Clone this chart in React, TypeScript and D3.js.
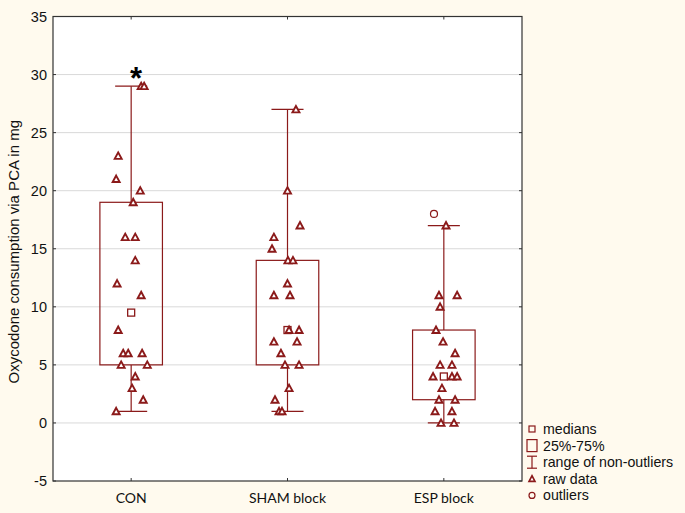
import React from "react";
import * as d3 from "d3";

const categories = ["CON", "SHAM block", "ESP block"];
const medians = [9.5, 8, 4];
const q1 = [5, 5, 2];
const q3 = [19, 14, 8];
const whiskerLow = [1, 1, 0];
const whiskerHigh = [29, 27, 17];

const conValues = [29, 29, 23, 21, 20, 19, 16, 16, 14, 12, 11, 8, 6, 6, 6, 5, 5, 4, 3, 2, 1];
const conJitter = [0.064, 0.083, -0.083, -0.096, 0.058, 0.013, -0.038, 0.026, 0.026, -0.09, 0.064, -0.083, -0.051, -0.019, 0.07, -0.064, 0.103, 0.026, 0.006, 0.077, -0.096];
const shamValues = [27, 20, 17, 16, 15, 14, 14, 12, 11, 11, 8, 8, 7, 7, 6, 5, 5, 3, 2, 1, 1];
const shamJitter = [0.054, 0, 0.08, -0.087, -0.099, 0.003, 0.035, 0, -0.087, 0.016, 0.01, 0.074, -0.087, 0.061, -0.042, -0.016, 0.074, 0.01, -0.08, -0.054, -0.035];
const espValues = [17, 11, 11, 10, 8, 7, 6, 5, 5, 4, 4, 4, 3, 2, 2, 1, 1, 0, 0];
const espJitter = [0.014, -0.031, 0.085, -0.024, -0.05, -0.005, 0.072, -0.024, 0.052, -0.069, 0.052, 0.085, -0.012, -0.031, 0.072, -0.056, 0.052, -0.018, 0.065];
const outlierValues = [[], [], [18]];
const outlierJitter = [[], [], [-0.063]];
const yTicks = [-5, 0, 5, 10, 15, 20, 25, 30, 35];
const legendLabels = ["medians", "25%-75%", "range of non-outliers", "raw data", "outliers"];

const rawValues = [conValues, shamValues, espValues];
const rawJitter = [conJitter, shamJitter, espJitter];

const W = 685;
const H = 513;
const left = 53;
const right = 522;
const top = 16.5;
const bottom = 481;
const RED = "#8b1a1a";
const BG = "#fffaee";
const FONT = "'Liberation Sans', Arial, sans-serif";

function tri(x: number, y: number, s: number) {
  const h = s * 0.85;
  return `M${x},${y - h / 2 - 0.5}L${x + s / 2},${y + h / 2}L${x - s / 2},${y + h / 2}Z`;
}

export default function App() {
  const x = d3.scaleBand<string>().domain(categories).range([left, right]).padding(0);
  const y = d3.scaleLinear().domain([-5, 35]).range([bottom, top]);
  const bw = x.bandwidth();
  const cx = (i: number) => (x(categories[i]) as number) + bw / 2;
  const boxW = bw * 0.4;
  const capW = bw * 0.205;

  return (
    <svg width={W} height={H} style={{ position: "absolute", left: 0, top: 0 }}>
      <rect x={0} y={0} width={W} height={H} fill={BG} />
      <rect x={left} y={top} width={right - left} height={bottom - top} fill="#fff" />
      {yTicks.filter((t) => t > -5 && t < 35).map((t) => (
        <line key={"g" + t} x1={left} x2={right} y1={y(t)} y2={y(t)} stroke="#d9d9d9" strokeWidth={1} />
      ))}
      {yTicks.map((t) => (
        <g key={"t" + t}>
          <line x1={left} x2={left + 3} y1={y(t)} y2={y(t)} stroke="#333" />
          <line x1={right - 3} x2={right} y1={y(t)} y2={y(t)} stroke="#333" />
          <text x={left - 6} y={y(t)} dy="0.35em" textAnchor="end" fontFamily={FONT} fontSize={14.5} fill="#111">
            {t}
          </text>
        </g>
      ))}
      {categories.map((c, i) => (
        <g key={"c" + c}>
          <line x1={cx(i)} x2={cx(i)} y1={top} y2={top + 3} stroke="#333" />
          <line x1={cx(i)} x2={cx(i)} y1={bottom - 3} y2={bottom} stroke="#333" />
          <text x={cx(i)} y={bottom + 22} textAnchor="middle" fontFamily="Lato, 'Open Sans', sans-serif" fontSize={14} fill="#111">
            {c}
          </text>
        </g>
      ))}
      <rect x={left} y={top} width={right - left} height={bottom - top} fill="none" stroke="#333" strokeWidth={1.2} />

      {categories.map((c, i) => (
        <g key={"b" + c}>
          <line x1={cx(i)} x2={cx(i)} y1={y(whiskerHigh[i])} y2={y(q3[i])} stroke={RED} strokeWidth={1.2} />
          <line x1={cx(i)} x2={cx(i)} y1={y(q1[i])} y2={y(whiskerLow[i])} stroke={RED} strokeWidth={1.2} />
          <line x1={cx(i) - capW / 2 - 0} x2={cx(i) + capW / 2} y1={y(whiskerHigh[i])} y2={y(whiskerHigh[i])} stroke={RED} strokeWidth={1.2} />
          <line x1={cx(i) - capW / 2} x2={cx(i) + capW / 2} y1={y(whiskerLow[i])} y2={y(whiskerLow[i])} stroke={RED} strokeWidth={1.2} />
          <rect x={cx(i) - boxW / 2} y={y(q3[i])} width={boxW} height={y(q1[i]) - y(q3[i])} fill="none" stroke={RED} strokeWidth={1.2} />
          <rect x={cx(i) - 3.5} y={y(medians[i]) - 3.5} width={7} height={7} fill="#fff" stroke={RED} strokeWidth={1.3} />
          {rawValues[i].map((v, j) => (
            <path key={j} d={tri(cx(i) + rawJitter[i][j] * bw, y(v), 7)} fill="#fff" stroke={RED} strokeWidth={1.9} strokeLinejoin="miter" />
          ))}
          {outlierValues[i].map((v, j) => (
            <circle key={"o" + j} cx={cx(i) + outlierJitter[i][j] * bw} cy={y(v)} r={3.5} fill="none" stroke={RED} strokeWidth={1.2} />
          ))}
        </g>
      ))}

      <text x={136} y={y(whiskerHigh[0]) + 3} textAnchor="middle" fontFamily={FONT} fontWeight="bold" fontSize={31} fill="#000">
        *
      </text>

      <g fontFamily={FONT} fontSize={14.2} fill="#111">
        {legendLabels.map((l, k) => {
          const ly = 429 + k * 16.6;
          return (
            <g key={l}>
              <text x={543} y={ly} dy="0.35em">{l}</text>
              {k === 0 && <rect x={529} y={ly - 3} width={6} height={6} fill="none" stroke={RED} strokeWidth={1.2} />}
              {k === 1 && <rect x={527} y={ly - 6} width={10} height={12} fill="none" stroke={RED} strokeWidth={1.2} />}
              {k === 2 && (
                <g stroke={RED} strokeWidth={1.2}>
                  <line x1={527} x2={537} y1={ly - 6} y2={ly - 6} />
                  <line x1={532} x2={532} y1={ly - 6} y2={ly + 6} />
                  <line x1={527} x2={537} y1={ly + 6} y2={ly + 6} />
                </g>
              )}
              {k === 3 && <path d={tri(532, ly, 6)} fill="#fff" stroke={RED} strokeWidth={1.6} />}
              {k === 4 && <circle cx={532} cy={ly} r={3} fill="none" stroke={RED} strokeWidth={1.2} />}
            </g>
          );
        })}
      </g>

      <text transform={`translate(19,${(top + bottom) / 2 + 3}) rotate(-90)`} textAnchor="middle" fontFamily={FONT} fontSize={15} fill="#111">
        Oxycodone consumption via PCA in mg
      </text>
    </svg>
  );
}
